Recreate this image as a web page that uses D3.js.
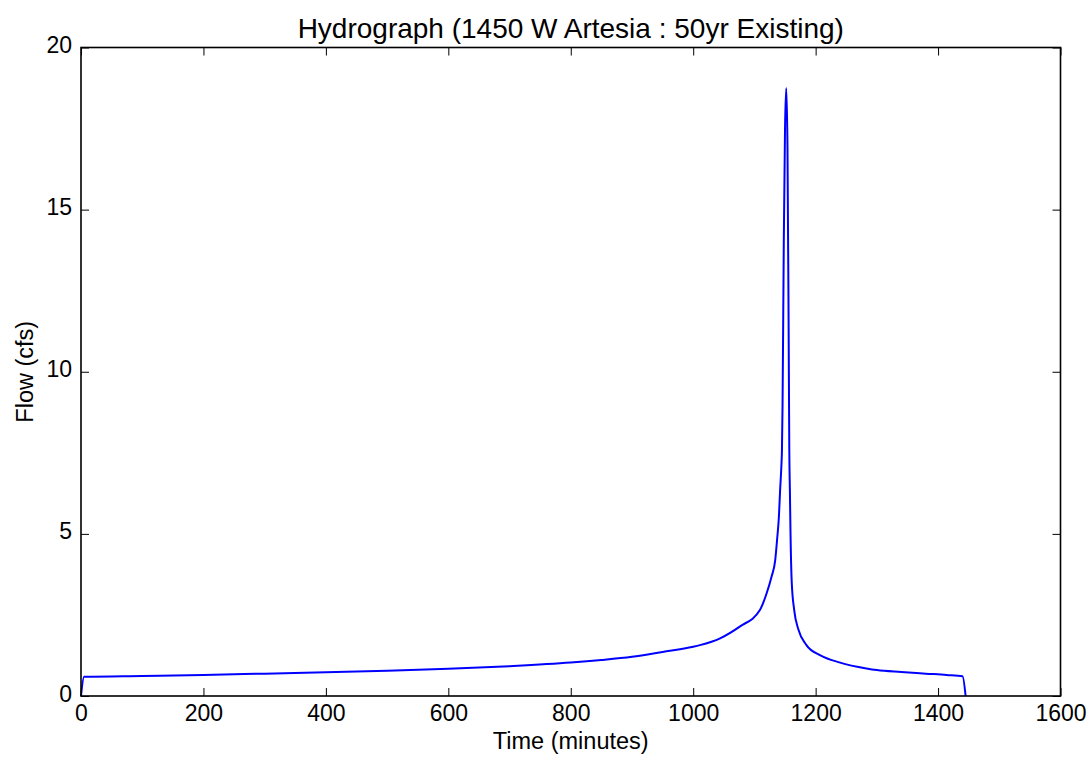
<!DOCTYPE html>
<html>
<head>
<meta charset="utf-8">
<script src="https://cdn.jsdelivr.net/npm/d3@7"></script>
<style>
  body { margin: 0; background: #fff; }
  text { font-family: "Liberation Sans", Arial, sans-serif; fill: #000; }
</style>
</head>
<body>
<div id="hydrograph"></div>
<script>
// values
var time_min = [0, 5, 100, 200, 300, 400, 500, 600, 700, 800, 850, 900, 950, 1000, 1011, 1044, 1076, 1109,
  1120, 1128, 1134, 1137, 1140, 1142, 1144, 1145, 1146, 1148, 1150, 1152, 1154, 1156, 1157, 1158, 1159,
  1161, 1165, 1172, 1185, 1207, 1240, 1283, 1300, 1340, 1380, 1414, 1440, 1445];
var flow_cfs = [0, 0.59, 0.62, 0.65, 0.69, 0.73, 0.78, 0.84, 0.92, 1.03, 1.11, 1.21, 1.36, 1.52, 1.57, 1.78, 2.14, 2.65,
  3.17, 3.68, 4.19, 4.81, 5.53, 6.35, 7.07, 7.59, 9.0, 14.0, 17.5, 18.75, 17.0, 11.0, 7.6, 6.3, 5.0,
  3.5, 2.65, 2.04, 1.57, 1.26, 1.03, 0.85, 0.80, 0.74, 0.69, 0.65, 0.61, 0];
var x_ticks = [0, 200, 400, 600, 800, 1000, 1200, 1400, 1600];
var y_ticks = [0, 5, 10, 15, 20];

var width = 1089, height = 758;
var margin = {top: 47.5, right: 28.5, bottom: 62, left: 81};
var plot_w = width - margin.left - margin.right;
var plot_h = height - margin.top - margin.bottom;

var x_scale = d3.scaleLinear().domain([0, 1600]).range([0, plot_w]);
var y_scale = d3.scaleLinear().domain([0, 20]).range([plot_h, 0]);

var svg = d3.select("#hydrograph").append("svg")
    .attr("width", width)
    .attr("height", height);

var g = svg.append("g")
    .attr("transform", "translate(" + margin.left + "," + margin.top + ")");

// hydrograph line
var plot_data = time_min.map(function(t, i) { return {t: t, q: flow_cfs[i]}; });
var flow_line = d3.line()
    .x(function(d) { return x_scale(d.t); })
    .y(function(d) { return y_scale(d.q); })
    .curve(d3.curveMonotoneX);

g.append("path")
    .datum(plot_data)
    .attr("d", flow_line)
    .style("fill", "none")
    .style("stroke", "#0000ff")
    .style("stroke-width", 2)
    .style("stroke-linejoin", "round");

// axes, matplotlib classic look: ticks inside on all four sides
function style_axis(sel) {
  sel.select(".domain").remove();
  sel.selectAll(".tick line").style("stroke", "#000").style("stroke-width", 1);
  sel.selectAll(".tick text").style("font-size", "23px").style("font-family", "'Liberation Sans', Arial, sans-serif");
}

g.append("g")
    .attr("transform", "translate(0," + plot_h + ")")
    .call(d3.axisBottom(x_scale).tickValues(x_ticks).tickFormat(d3.format("d")).tickSizeInner(-8).tickSizeOuter(0).tickPadding(9))
    .call(style_axis);

g.append("g")
    .call(d3.axisTop(x_scale).tickValues(x_ticks).tickFormat("").tickSizeInner(-8).tickSizeOuter(0))
    .call(style_axis);

g.append("g")
    .call(d3.axisLeft(y_scale).tickValues(y_ticks).tickFormat(d3.format("d")).tickSizeInner(-8).tickSizeOuter(0).tickPadding(9))
    .call(style_axis)
    .selectAll(".tick text").attr("dy", "0.22em");

g.append("g")
    .attr("transform", "translate(" + plot_w + ",0)")
    .call(d3.axisRight(y_scale).tickValues(y_ticks).tickFormat("").tickSizeInner(-8).tickSizeOuter(0))
    .call(style_axis);

// frame
g.append("rect")
    .attr("x", 0)
    .attr("y", 0)
    .attr("width", plot_w)
    .attr("height", plot_h)
    .style("fill", "none")
    .style("stroke", "#000")
    .style("stroke-width", 1.6);

// title and axis labels
svg.append("text")
    .attr("x", margin.left + plot_w / 2)
    .attr("y", 38)
    .attr("text-anchor", "middle")
    .style("font-size", "28px")
    .text("Hydrograph (1450 W Artesia : 50yr Existing)");

svg.append("text")
    .attr("x", margin.left + plot_w / 2)
    .attr("y", 749)
    .attr("text-anchor", "middle")
    .style("font-size", "23.5px")
    .text("Time (minutes)");

svg.append("text")
    .attr("transform", "translate(33," + (margin.top + plot_h / 2) + ") rotate(-90)")
    .attr("text-anchor", "middle")
    .style("font-size", "23.5px")
    .text("Flow (cfs)");
</script>
</body>
</html>
